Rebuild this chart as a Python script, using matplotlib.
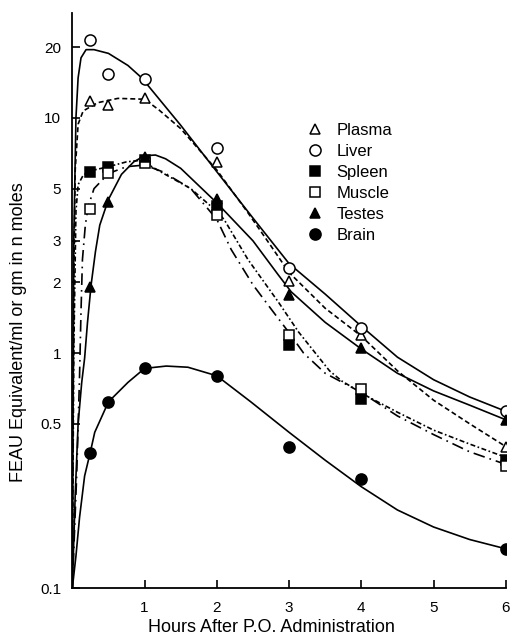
import matplotlib
matplotlib.use('Agg')
import matplotlib.pyplot as plt

plt.rcParams['font.family'] = ['Liberation Sans', 'DejaVu Sans']

# sampled hours
hours = [0.25, 0.5, 1, 2, 3, 4, 6]

plasma = [11.8, 11.3, 12.1, 6.5, 2.03, 1.19, 0.40]
liver = [21.5, 15.4, 14.7, 7.45, 2.31, 1.28, 0.565]
spleen = [5.9, 6.2, 6.6, 4.2, 1.08, 0.64, 0.35]
muscle = [4.1, 5.8, 6.4, 3.85, 1.19, 0.70, 0.33]
testes = [1.9, 4.4, 6.8, 4.5, 1.77, 1.05, 0.52]
brain = [0.377, 0.62, 0.86, 0.80, 0.40, 0.29, 0.147]

# fitted curves
plasma_fit_t = [0, 0.02, 0.04, 0.08, 0.15, 0.35, 0.63, 1, 1.2, 1.5, 2, 2.43, 2.75, 3, 3.5, 4, 4.5, 5, 5.5, 6]
plasma_fit = [0.1, 2, 6, 9.4, 10.7, 11.6, 12.1, 12.0, 10.8, 9.0, 6.0, 3.95, 2.85, 2.2, 1.55, 1.18, 0.84, 0.63, 0.5, 0.40]

liver_fit_t = [0, 0.02, 0.05, 0.08, 0.12, 0.19, 0.3, 0.5, 0.77, 0.96, 1.5, 2, 2.5, 3, 3.5, 4, 4.5, 5, 5.5, 6]
liver_fit = [0.1, 3, 10, 14.8, 18, 19.5, 19.5, 18.8, 16.7, 14.8, 9.3, 5.9, 3.75, 2.4, 1.78, 1.3, 0.96, 0.77, 0.65, 0.565]

spleen_fit_t = [0, 0.02, 0.05, 0.08, 0.15, 0.25, 0.5, 0.75, 0.95, 1.22, 1.64, 2, 2.1, 2.43, 2.85, 3.13, 3.56, 3.73, 4.1, 4.5, 5, 5.5, 6]
spleen_fit = [0.1, 1, 4.0, 5.2, 5.7, 5.95, 6.2, 6.5, 6.6, 5.9, 5.0, 4.0, 3.7, 2.5, 1.65, 1.23, 0.84, 0.76, 0.65, 0.56, 0.47, 0.41, 0.36]

muscle_fit_t = [0, 0.06, 0.1, 0.12, 0.14, 0.18, 0.22, 0.3, 0.5, 0.75, 1, 1.25, 1.64, 2, 2.2, 2.5, 2.75, 3, 3.2, 3.5, 4, 4.5, 5, 5.5, 6]
muscle_fit = [0.1, 0.3, 0.8, 1.5, 2.5, 3.5, 4.2, 5.0, 5.8, 6.2, 6.3, 5.9, 5.0, 3.7, 2.75, 1.95, 1.54, 1.22, 1.0, 0.82, 0.68, 0.54, 0.45, 0.38, 0.336]

testes_fit_t = [0, 0.04, 0.08, 0.13, 0.17, 0.21, 0.26, 0.32, 0.38, 0.5, 0.68, 0.85, 1, 1.15, 1.29, 1.5, 2, 2.5, 2.85, 3.03, 3.5, 4, 4.5, 5, 5.5, 6]
testes_fit = [0.1, 0.25, 0.5, 0.75, 0.95, 1.35, 1.95, 2.7, 3.5, 4.5, 5.75, 6.5, 6.9, 6.95, 6.7, 6.1, 4.35, 3.0, 2.15, 1.82, 1.35, 1.04, 0.82, 0.69, 0.6, 0.52]

brain_fit_t = [0, 0.05, 0.1, 0.17, 0.25, 0.31, 0.5, 0.77, 1, 1.3, 1.6, 2, 2.47, 3, 3.5, 4, 4.5, 5, 5.5, 6]
brain_fit = [0.1, 0.137, 0.2, 0.3, 0.38, 0.46, 0.62, 0.75, 0.86, 0.88, 0.87, 0.80, 0.62, 0.46, 0.35, 0.27, 0.215, 0.182, 0.161, 0.147]

yticks = [0.1, 0.5, 1, 2, 3, 5, 10, 20]
ytick_labels = ['0.1', '0.5', '1', '2', '3', '5', '10', '20']
xticks = [1, 2, 3, 4, 5, 6]

fig = plt.figure(figsize=(5.13, 6.4), dpi=100)
ax = fig.add_axes([0.141, 0.081, 0.845, 0.898])

lw = 1.2
ax.plot(liver_fit_t, liver_fit, color='black', lw=lw, ls='-')
ax.plot(plasma_fit_t, plasma_fit, color='black', lw=lw, ls=(0, (3, 1.8)))
ax.plot(spleen_fit_t, spleen_fit, color='black', lw=lw, ls=(0, (3, 1.5, 1, 1.5)))
ax.plot(muscle_fit_t, muscle_fit, color='black', lw=lw, ls=(0, (7, 3, 1, 3)))
ax.plot(testes_fit_t, testes_fit, color='black', lw=lw, ls='-')
ax.plot(brain_fit_t, brain_fit, color='black', lw=lw, ls='-')

ms = 7.5
mew = 1.1
h1, = ax.plot(hours, plasma, ls='none', marker='^', ms=ms, mfc='white', mec='black', mew=mew, label='Plasma', zorder=5)
h2, = ax.plot(hours, liver, ls='none', marker='o', ms=ms + 0.5, mfc='white', mec='black', mew=mew, label='Liver', zorder=5)
h3, = ax.plot(hours, spleen, ls='none', marker='s', ms=ms - 0.5, mfc='black', mec='black', mew=mew, label='Spleen', zorder=5)
h4, = ax.plot(hours, muscle, ls='none', marker='s', ms=ms - 0.5, mfc='white', mec='black', mew=mew, label='Muscle', zorder=5)
h5, = ax.plot(hours, testes, ls='none', marker='^', ms=ms, mfc='black', mec='black', mew=mew, label='Testes', zorder=5)
h6, = ax.plot(hours, brain, ls='none', marker='o', ms=ms + 0.5, mfc='black', mec='black', mew=mew, label='Brain', zorder=5)

ax.set_yscale('log')
ax.set_xlim(0, 6)
ax.set_ylim(0.1, 27.8)
ax.set_yticks(yticks)
ax.set_yticklabels(ytick_labels)
ax.yaxis.set_minor_locator(matplotlib.ticker.NullLocator())
ax.set_xticks(xticks)
ax.set_xticklabels([str(v) for v in xticks])

for s in ['top', 'right']:
    ax.spines[s].set_visible(False)
for s in ['left', 'bottom']:
    ax.spines[s].set_linewidth(1.3)

ax.tick_params(axis='both', direction='in', length=6, width=1.2, labelsize=11)
ax.tick_params(axis='y', pad=8)
ax.tick_params(axis='x', pad=9)

ax.set_xlabel('Hours After P.O. Administration', fontsize=13)
ax.set_ylabel('FEAU Equivalent/ml or gm in n moles', fontsize=13)
ax.xaxis.set_label_coords(0.46, -0.053)
ax.yaxis.set_label_coords(-0.105, 0.445)

ax.legend(handles=[h1, h2, h3, h4, h5, h6], loc='upper left', bbox_to_anchor=(0.54, 0.809),
          frameon=False, fontsize=12, handlelength=1.0, handletextpad=0.8,
          labelspacing=0.36, borderpad=0, borderaxespad=0)

fig.savefig('out.png', dpi=100)
